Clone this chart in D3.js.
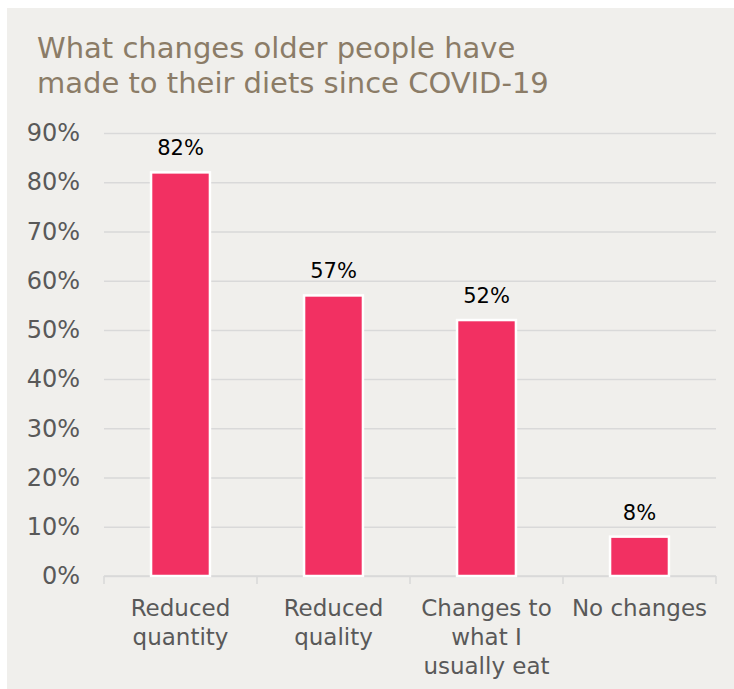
<!DOCTYPE html>
<html>
<head>
<meta charset="utf-8">
<script src="https://cdn.jsdelivr.net/npm/d3@7/dist/d3.min.js"></script>
<style>
  html, body { margin: 0; padding: 0; background: #ffffff; }
  svg { display: block; }
  text { font-family: "DejaVu Sans", Verdana, sans-serif; }
</style>
</head>
<body>
<script>
// Survey results: dietary changes since COVID-19
const titleLines = ["What changes older people have", "made to their diets since COVID-19"];
const categories = ["Reduced quantity", "Reduced quality", "Changes to what I usually eat", "No changes"];
const categoryLines = [
  ["Reduced", "quantity"],
  ["Reduced", "quality"],
  ["Changes to", "what I", "usually eat"],
  ["No changes"]
];
const values = [82, 57, 52, 8];
const yTicks = [0, 10, 20, 30, 40, 50, 60, 70, 80, 90];

const W = 734, H = 689;
const plot = { left: 104, right: 716, top: 133, bottom: 576 };

const svg = d3.select("body").append("svg")
  .attr("width", W).attr("height", H);

// panel background
svg.append("rect")
  .attr("x", 7).attr("y", 8)
  .attr("width", W - 7).attr("height", H - 8)
  .attr("fill", "#f0efec");

// title
svg.append("g").selectAll("text")
  .data(titleLines)
  .join("text")
  .attr("x", 37)
  .attr("y", (d, i) => 58 + i * 35)
  .attr("font-size", 29)
  .attr("fill", "#8b7c67")
  .text(d => d);

const x = d3.scaleBand()
  .domain(categories)
  .range([plot.left, plot.right])
  .padding(0);

const y = d3.scaleLinear()
  .domain([0, 90])
  .range([plot.bottom, plot.top]);

// horizontal gridlines + y labels
const yAxis = d3.axisLeft(y)
  .tickValues(yTicks)
  .tickFormat(d => d + "%")
  .tickSize(-(plot.right - plot.left))
  .tickPadding(24);

const gy = svg.append("g")
  .attr("transform", `translate(${plot.left},0)`)
  .call(yAxis);
gy.select(".domain").remove();
gy.selectAll(".tick line")
  .attr("stroke", "#d9d9d9")
  .attr("stroke-width", 1.5);
gy.selectAll(".tick text")
  .attr("font-size", 24)
  .attr("fill", "#595959")
  .attr("font-family", "DejaVu Sans, Verdana, sans-serif");

// category axis: baseline and boundary ticks
const gx = svg.append("g");
gx.append("line")
  .attr("x1", plot.left).attr("x2", plot.right)
  .attr("y1", y(0)).attr("y2", y(0))
  .attr("stroke", "#d9d9d9").attr("stroke-width", 1.5);
const boundaries = categories.map(c => x(c)).concat([x(categories[categories.length - 1]) + x.bandwidth()]);
gx.selectAll("line.bnd")
  .data(boundaries)
  .join("line")
  .attr("class", "bnd")
  .attr("x1", d => d).attr("x2", d => d)
  .attr("y1", y(0)).attr("y2", y(0) + 8)
  .attr("stroke", "#d9d9d9").attr("stroke-width", 1.5);

// category labels
const labelG = svg.append("g").selectAll("text")
  .data(categories)
  .join("text")
  .attr("text-anchor", "middle")
  .attr("font-size", 23)
  .attr("fill", "#595959");
labelG.each(function (c, i) {
  d3.select(this).selectAll("tspan")
    .data(categoryLines[i])
    .join("tspan")
    .attr("x", x(c) + x.bandwidth() / 2)
    .attr("y", (d, j) => 616 + j * 29)
    .text(d => d);
});

// bars
const barW = x.bandwidth() * 0.385;
svg.append("g").selectAll("rect")
  .data(values)
  .join("rect")
  .attr("x", (d, i) => x(categories[i]) + x.bandwidth() / 2 - barW / 2)
  .attr("y", d => y(d))
  .attr("width", barW)
  .attr("height", d => y(0) - y(d))
  .attr("fill", "#f23062")
  .attr("stroke", "#ffffff")
  .attr("stroke-width", 2.5);

// value labels
svg.append("g").selectAll("text")
  .data(values)
  .join("text")
  .attr("x", (d, i) => x(categories[i]) + x.bandwidth() / 2)
  .attr("y", d => y(d) - 17)
  .attr("text-anchor", "middle")
  .attr("font-size", 21)
  .attr("fill", "#000000")
  .text(d => d + "%");
</script>
</body>
</html>
